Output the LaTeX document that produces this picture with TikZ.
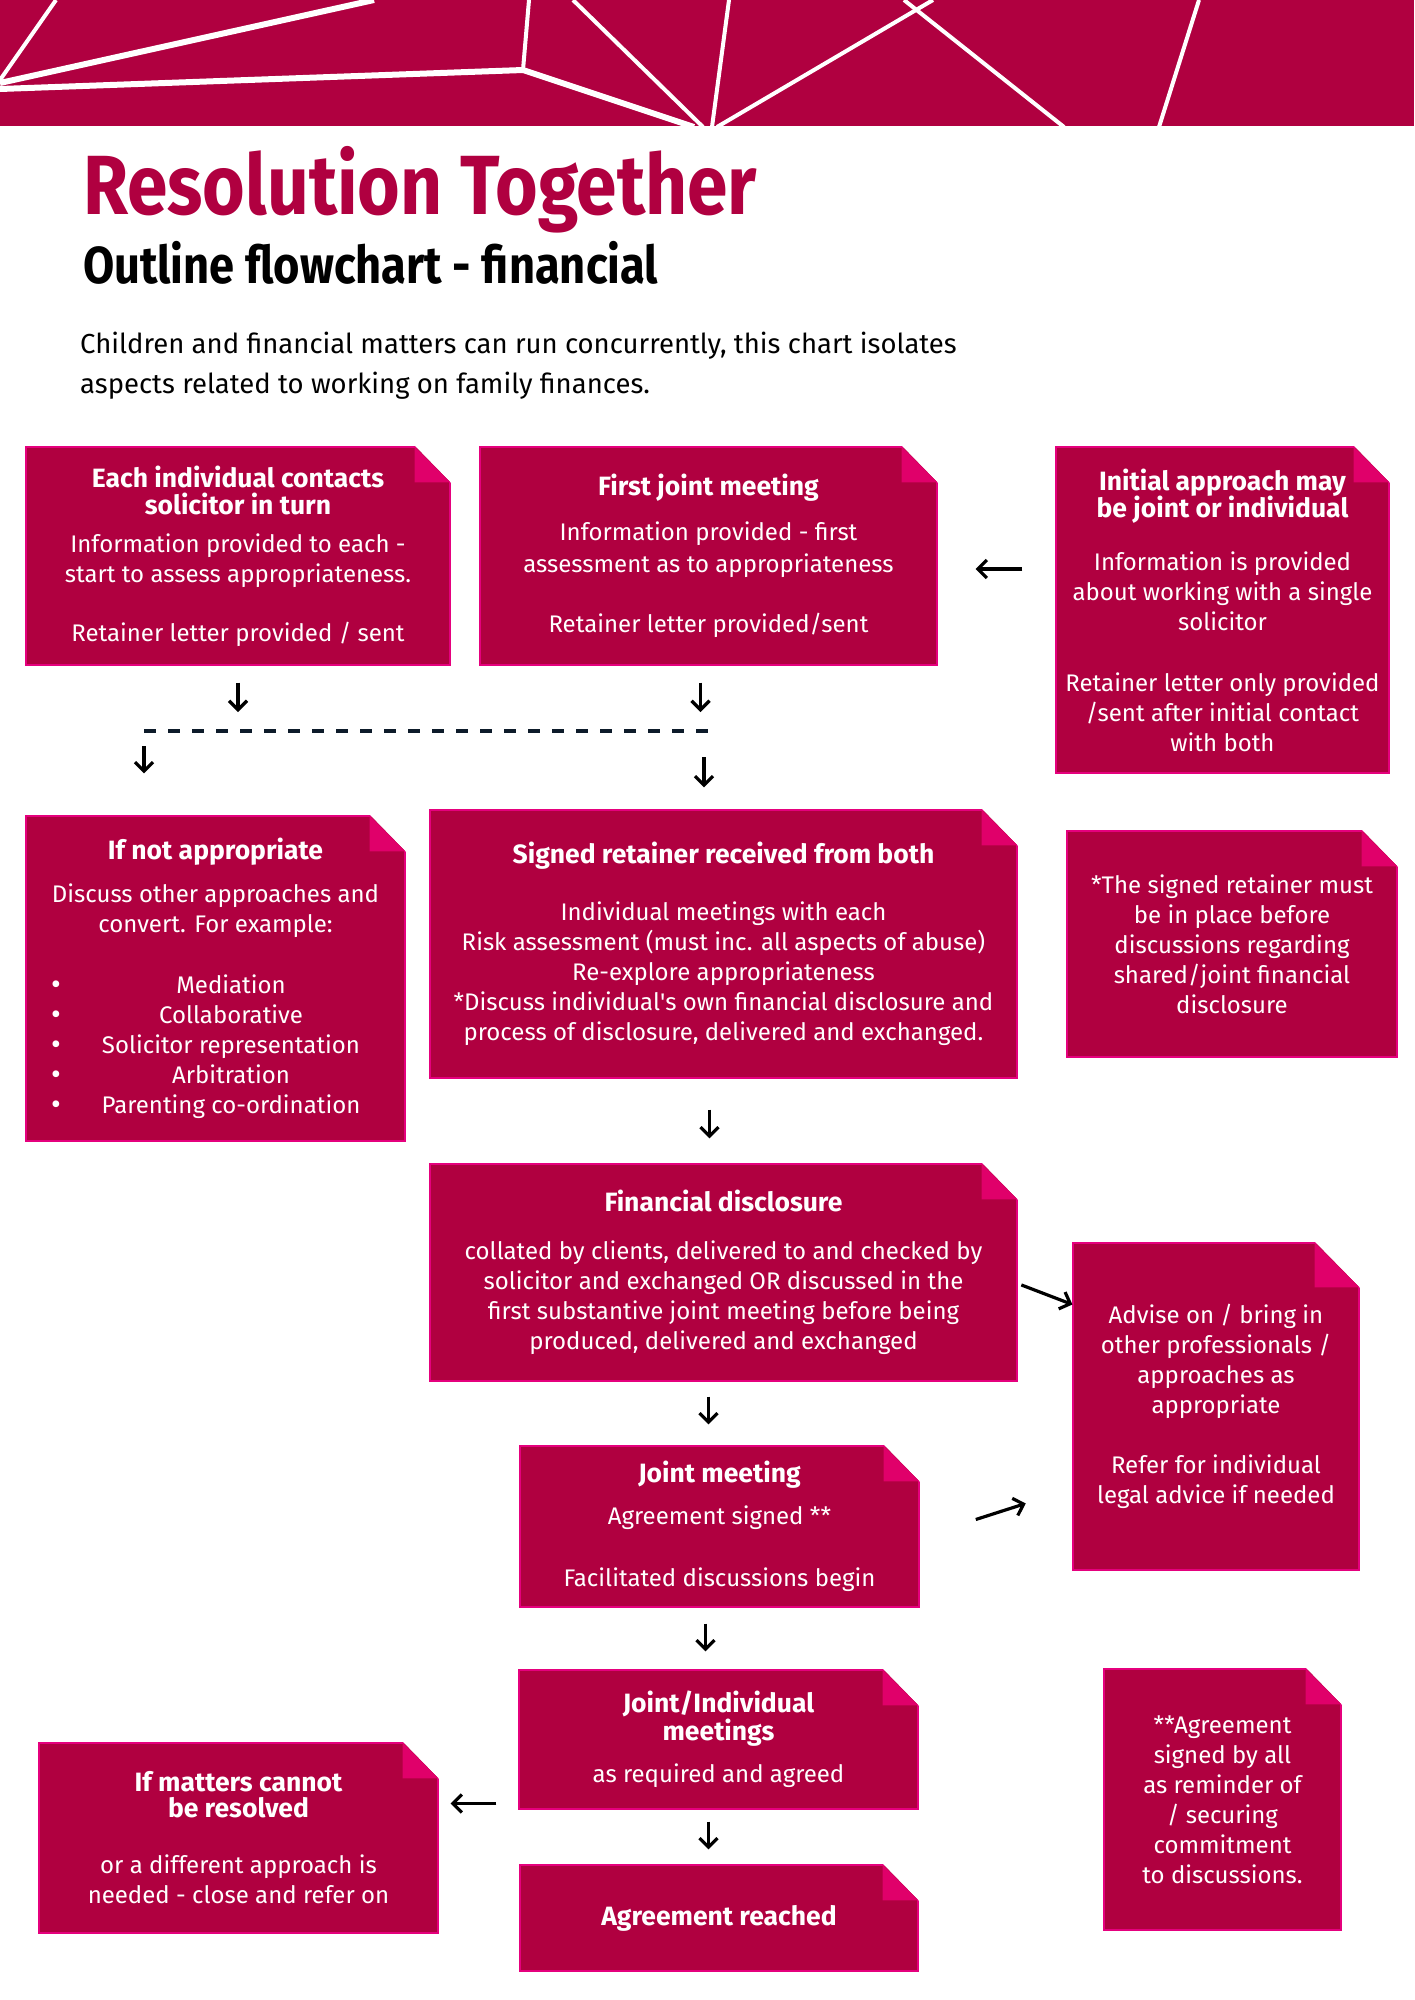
\documentclass[tikz,border=0pt]{standalone}
\usepackage{fontspec}
\setmainfont{Fira Sans}
\newfontfamily\titlefont{Fira Sans}[FakeStretch=0.87]
\usepackage{tikz}
\usetikzlibrary{arrows.meta}

\definecolor{rtred}{HTML}{B00040}
\definecolor{rtfold}{HTML}{E0006A}
\definecolor{rtedge}{HTML}{E5007D}
\definecolor{rtdash}{HTML}{0D1B2A}

\tikzset{
  note/.style={fill=rtred,draw=rtedge,line width=1.2pt,text=white,align=center,inner sep=0pt,font=\fontsize{24}{30}\selectfont},
  flow/.style={black,line width=3.2pt,-{Straight Barb[length=9pt,width=18pt]}},
  dashline/.style={rtdash,line width=4pt,dash pattern=on 12pt off 12pt},
  band/.style={white,line width=4pt},
  wideband/.style={white,line width=6pt}
}
\newcommand\hd[1]{{\bfseries\fontsize{26.5}{27}\selectfont #1}}
\newcommand\bul{\makebox[31pt][l]{\smash{\raisebox{-1pt}{\fontsize{30}{30}\selectfont\textbullet}}}}
\newcommand\fold[2][36]{%
  \fill[white]([xshift=-#1pt,yshift=1pt]#2.north east)--([xshift=1pt,yshift=1pt]#2.north east)--([xshift=1pt,yshift=-#1pt-1pt]#2.north east)--cycle;
  \fill[rtfold]([xshift=-#1pt]#2.north east)--([xshift=-#1pt,yshift=-#1pt]#2.north east)--([yshift=-#1pt]#2.north east)--cycle;}

\begin{document}
\begin{tikzpicture}[x=1pt,y=-1pt]
\useasboundingbox[fill=white](0,0) rectangle (1414,2000);

\fill[rtred](0,0) rectangle (1414,126);
\draw[band](0,80)--(56,0);
\draw[wideband](0,83)--(374,0);
\draw[wideband](0,89)--(523,70);
\draw[band](523,70)--(529,0);
\draw[wideband](523,70)--(694,127);
\draw[band](573,0)--(703,127);
\draw[band](729,0)--(712,127);
\draw[band](933,0)--(717,127);
\draw[band](904,0)--(1064,127);
\draw[band](1199,0)--(1159,127);

\node[anchor=base west,inner sep=0pt,text=rtred,font=\titlefont\bfseries\fontsize{84}{90}\selectfont](title) at (83,214){Resolution Together};
\node[anchor=base west,inner sep=0pt,font=\titlefont\bfseries\fontsize{52}{56}\selectfont](subtitle) at (83,283){Outline flowchart - financial};
\node[anchor=base west,inner sep=0pt,align=left,font=\fontsize{27.5}{40}\selectfont](intro) at (80,393){Children and financial matters can run concurrently, this chart isolates\\aspects related to working on family finances.};

\node[note,minimum width=424pt,minimum height=218pt](contact) at (238,556){\hd{Each individual contacts}\\[-3pt]\hd{solicitor in turn}\\[8pt]Information provided to each -\\start to assess appropriateness.\\[29pt]Retainer letter provided / sent};
\node[note,minimum width=457pt,minimum height=218pt](first) at (708.5,556){\hd{First joint meeting}\\[15pt]Information provided - first\\[2pt]assessment as to appropriateness\\[30pt]Retainer letter provided/sent};
\node[note,minimum width=333pt,minimum height=326pt](initial) at (1222.5,610){\hd{Initial approach may}\\[-3pt]\hd{be joint or individual}\\[23pt]Information is provided\\about working with a single\\solicitor\\[31pt]Retainer letter only provided\\/sent after initial contact\\with both};
\node[note,minimum width=379pt,minimum height=325pt](notapp) at (215.5,978.5){\hd{If not appropriate}\\[13pt]Discuss other approaches and\\convert. For example:\\[31pt]
\bul\makebox[298pt]{Mediation}\\
\bul\makebox[298pt]{Collaborative}\\
\bul\makebox[298pt]{Solicitor representation}\\
\bul\makebox[298pt]{Arbitration}\\
\bul\makebox[298pt]{Parenting co-ordination}};
\node[note,minimum width=587pt,minimum height=268pt](signed) at (723.5,944){\hd{Signed retainer received from both}\\[27pt]Individual meetings with each\\Risk assessment (must inc. all aspects of abuse)\\Re-explore appropriateness\\*Discuss individual\textquotesingle s own financial disclosure and\\process of disclosure, delivered and exchanged.};
\node[note,minimum width=330pt,minimum height=226pt](mustnote) at (1232,944){*The signed retainer must\\be in place before\\discussions regarding\\shared/joint financial\\disclosure};
\node[note,minimum width=587pt,minimum height=217pt](disclosure) at (723.5,1272.5){\hd{Financial disclosure}\\[18pt]collated by clients, delivered to and checked by\\solicitor and exchanged OR discussed in the\\first substantive joint meeting before being\\produced, delivered and exchanged};
\node[note,minimum width=286pt,minimum height=327pt](advise) at (1216,1406.5){Advise on / bring in\\other professionals /\\approaches as\\appropriate\\[30pt]Refer for individual\\legal advice if needed};
\node[note,minimum width=399pt,minimum height=161pt](jointmeet) at (719.5,1526.5){\hd{Joint meeting}\\[12pt]Agreement signed **\\[32pt]Facilitated discussions begin};
\node[note,minimum width=399pt,minimum height=139pt](jointind) at (718.5,1739.5){\hd{Joint/Individual}\\[-2pt]\hd{meetings}\\[12pt]as required and agreed};
\node[note,minimum width=237pt,minimum height=261pt](reminder) at (1222.5,1799.5){**Agreement\\signed by all\\as reminder of\\/ securing\\commitment\\to discussions.};
\node[note,minimum width=399pt,minimum height=190pt](cannot) at (238.5,1838){\hd{If matters cannot}\\[-4pt]\hd{be resolved}\\[26pt]or a different approach is\\needed - close and refer on};
\node[note,minimum width=398pt,minimum height=106pt](reached) at (719,1918){\hd{Agreement reached}};

\foreach \n in {contact,first,initial,notapp,signed,mustnote,disclosure,jointmeet,jointind,reminder,cannot,reached}
  \fold{\n};
\fold[45]{advise};

\coordinate(splitL) at (144,731);
\coordinate(splitR) at (708,731);

\draw[flow,shorten <=17pt,shorten >=19pt](contact.south)--(contact.south|-splitL);
\draw[flow,shorten <=17pt,shorten >=19pt]([xshift=-8pt]first.south)--([xshift=-8pt]first.south|-splitR);
\draw[dashline](splitL)--(splitR);
\draw[flow,shorten <=15pt,shorten >=42pt](splitL)--(splitL|-notapp.north);
\draw[flow,shorten <=26pt,shorten >=22pt]([xshift=-4pt]splitR)--([xshift=-4pt]splitR|-signed.north);
\draw[flow,shorten <=33pt,shorten >=38pt]([yshift=-13pt]first.east-|initial.west)--([yshift=-13pt]first.east);
\draw[flow,shorten <=31pt,shorten >=25pt]([xshift=-14pt]signed.south)--([xshift=-14pt]signed.south|-disclosure.north);
\draw[flow,shorten <=15pt,shorten >=21pt]([xshift=-15pt]disclosure.south)--([xshift=-15pt]disclosure.south|-jointmeet.north);
\draw[flow,shorten <=16pt,shorten >=18pt]([xshift=-14pt]jointmeet.south)--([xshift=-14pt]jointmeet.south|-jointind.north);
\draw[flow,shorten <=12pt,shorten >=15pt]([xshift=-10pt]jointind.south)--([xshift=-10pt]jointind.south|-reached.north);
\draw[flow,shorten <=22pt,shorten >=12pt]([yshift=-64pt]jointind.west)--([yshift=-64pt]jointind.west-|cannot.east);
\draw[flow,shorten <=4pt]([yshift=-11pt]disclosure.east)--([yshift=102pt]advise.west);
\draw[flow,shorten <=59pt,shorten >=49pt]([yshift=-11pt]jointmeet.east)--([yshift=-82pt]advise.west);

\end{tikzpicture}
\end{document}
